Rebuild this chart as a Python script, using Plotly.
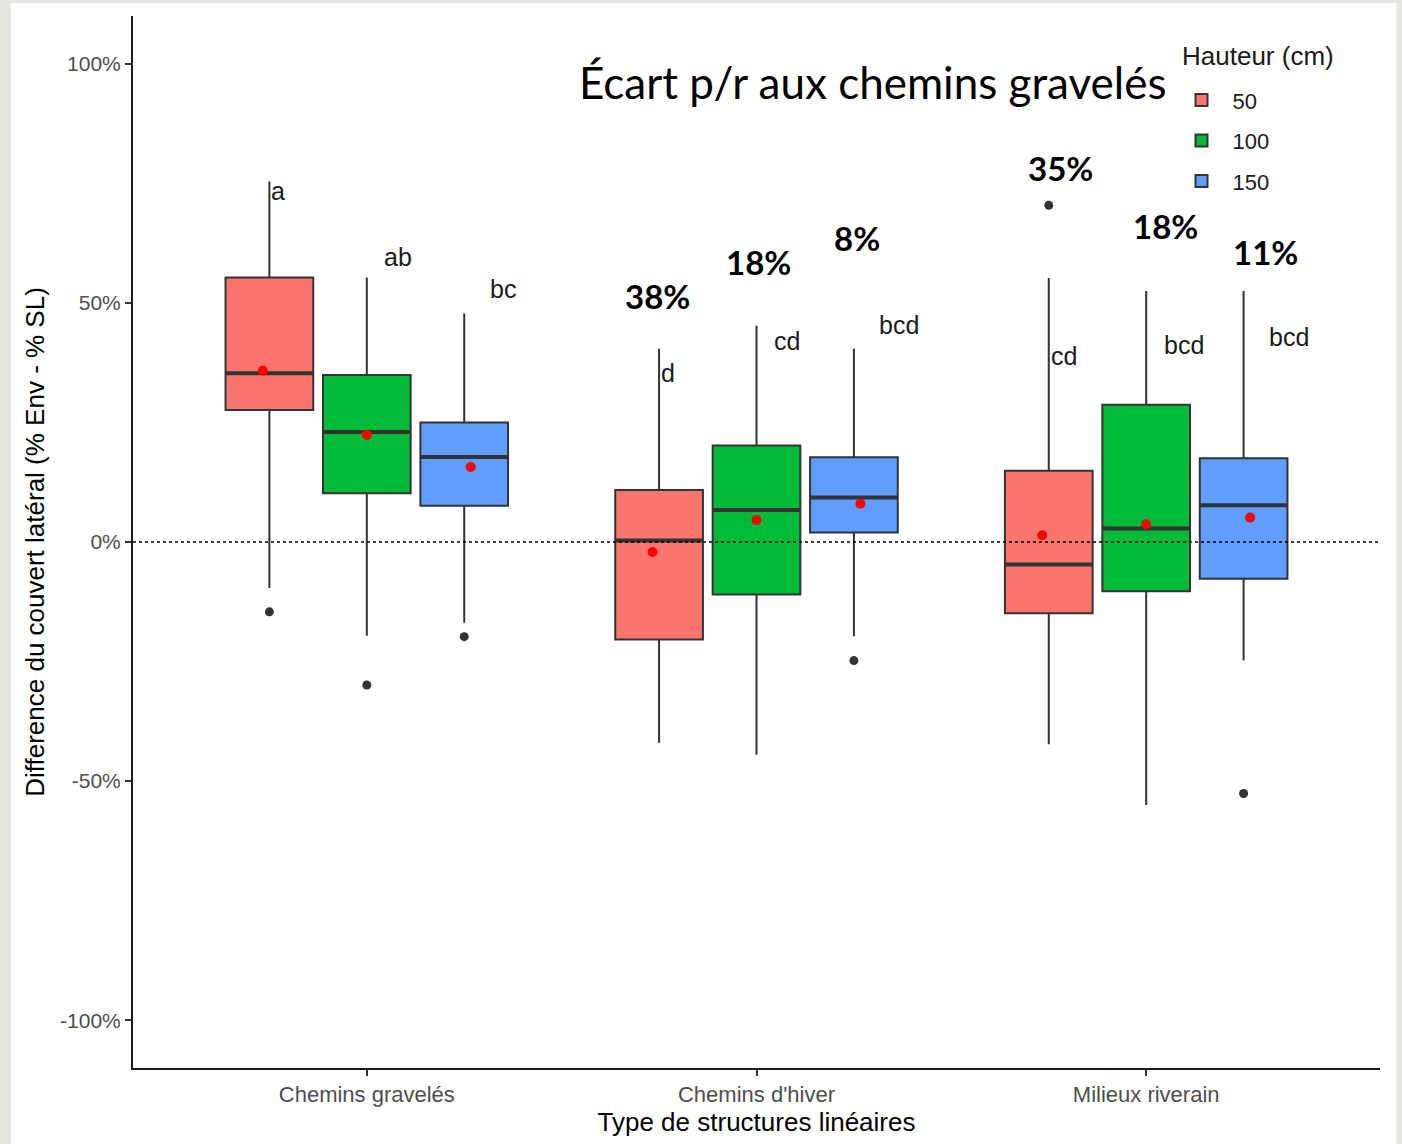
import plotly.graph_objects as go

# ---------------- data ----------------
categories = ["Chemins gravelés", "Chemins d'hiver", "Milieux riverain"]
hauteurs = ["50", "100", "150"]

upper_50 = [75.4, 40.4, 55.2]
q3_50 = [55.3, 10.9, 14.9]
median_50 = [35.3, 0.3, -4.7]
q1_50 = [27.6, -20.4, -14.9]
lower_50 = [-9.6, -42.0, -42.3]
mean_50 = [35.8, -2.1, 1.4]
out_cat_50 = [0, 2]
out_val_50 = [-14.6, 70.4]

upper_100 = [55.3, 45.2, 52.5]
q3_100 = [34.9, 20.2, 28.7]
median_100 = [23.0, 6.7, 2.8]
q1_100 = [10.2, -11.0, -10.3]
lower_100 = [-19.6, -44.5, -55.0]
mean_100 = [22.4, 4.6, 3.7]
out_cat_100 = [0]
out_val_100 = [-29.9]

upper_150 = [47.8, 40.4, 52.5]
q3_150 = [25.0, 17.7, 17.5]
median_150 = [17.8, 9.3, 7.7]
q1_150 = [7.6, 2.0, -7.7]
lower_150 = [-16.9, -19.7, -24.8]
mean_150 = [15.7, 8.0, 5.1]
out_cat_150 = [0, 1, 2]
out_val_150 = [-19.8, -24.8, -52.6]

# significance letters (rows = categories, cols = hauteurs)
letters = [["a", "ab", "bc"], ["d", "cd", "bcd"], ["cd", "bcd", "bcd"]]
letters_y = [[73.3, 59.7, 53.0], [35.3, 42.0, 45.3], [39.0, 41.3, 42.8]]

# écart percentages (categories 2 and 3)
pct_cat = [1, 1, 1, 2, 2, 2]
pct_text = ["38%", "18%", "8%", "35%", "18%", "11%"]
pct_y = [51.5, 58.5, 63.5, 78.3, 66.1, 60.7]

y_tick_vals = [-100, -50, 0, 50, 100]
y_tick_text = ["-100%", "-50%", "0%", "50%", "100%"]

title_text = "Écart p/r aux chemins gravelés"
x_title = "Type de structures linéaires"
y_title = "Difference du couvert latéral (% Env - % SL)"
legend_title = "Hauteur (cm)"

# ---------------- style / layout ----------------
colors = ["#F8766D", "#00BA38", "#619CFF"]
BOX_OFF = [-0.25, 0.0, 0.25]
MEAN_OFF = [-0.8 / 3, 0.0, 0.8 / 3]
BOX_W = 0.225
LETTER_OFF = [0.0, 0.04, 0.06]
PCT_OFF = [-0.255, 0.005, 0.259, -0.22, 0.049, 0.305]
SANS = "Arial, Liberation Sans, sans-serif"
GREY = "#333333"
BEIGE = "#E7E5DF"

series = [
    (upper_50, q3_50, median_50, q1_50, lower_50, mean_50, out_cat_50, out_val_50),
    (upper_100, q3_100, median_100, q1_100, lower_100, mean_100, out_cat_100, out_val_100),
    (upper_150, q3_150, median_150, q1_150, lower_150, mean_150, out_cat_150, out_val_150),
]

fig = go.Figure()
ncat = len(categories)

for hi, (up, q3, med, q1, lo, mn, oc, ov) in enumerate(series):
    xs = [ci + BOX_OFF[hi] for ci in range(ncat)]
    fig.add_trace(go.Box(
        x=xs, q1=q1, median=med, q3=q3, lowerfence=lo, upperfence=up,
        width=BOX_W, whiskerwidth=0, boxpoints=False,
        fillcolor=colors[hi], line=dict(color=GREY, width=2),
        name=hauteurs[hi], legendgroup=hauteurs[hi], hoverinfo="skip",
    ))

for hi, (up, q3, med, q1, lo, mn, oc, ov) in enumerate(series):
    # thick medians
    mx, my = [], []
    for ci in range(ncat):
        c = ci + BOX_OFF[hi]
        mx += [c - BOX_W / 2, c + BOX_W / 2, None]
        my += [med[ci], med[ci], None]
    fig.add_trace(go.Scatter(x=mx, y=my, mode="lines", line=dict(color=GREY, width=4),
                             showlegend=False, hoverinfo="skip"))
    # outliers
    fig.add_trace(go.Scatter(x=[c + BOX_OFF[hi] for c in oc], y=ov, mode="markers",
                             marker=dict(color=GREY, size=9), showlegend=False, hoverinfo="skip"))
    # means
    fig.add_trace(go.Scatter(x=[ci + MEAN_OFF[hi] for ci in range(ncat)], y=mn, mode="markers",
                             marker=dict(color="#FF0000", size=10), showlegend=False, hoverinfo="skip"))

annotations = []
for ci in range(ncat):
    for hi in range(3):
        annotations.append(dict(
            x=ci + BOX_OFF[hi] + LETTER_OFF[hi], y=letters_y[ci][hi], xref="x", yref="y",
            text=letters[ci][hi], showarrow=False, xanchor="left", yanchor="middle",
            font=dict(family=SANS, size=25, color="#1a1a1a"),
        ))
for k in range(len(pct_text)):
    annotations.append(dict(
        x=pct_cat[k] + PCT_OFF[k], y=pct_y[k], xref="x", yref="y",
        text=pct_text[k], showarrow=False, xanchor="center", yanchor="middle",
        font=dict(family="Lato", size=33, color="#000000", weight="bold"),
    ))
annotations.append(dict(
    x=0.5934, y=0.9374, xref="paper", yref="paper", text=title_text, showarrow=False,
    xanchor="center", yanchor="middle", font=dict(family="Lato", size=44, color="#000000"),
))
annotations.append(dict(
    x=0.8396, y=0.962, xref="paper", yref="paper", text=legend_title, showarrow=False,
    xanchor="left", yanchor="middle", font=dict(family=SANS, size=26, color="#1a1a1a"),
))

shapes = [
    dict(type="rect", xref="paper", yref="paper", x0=-0.098, x1=1.0132, y0=-0.1, y1=1.0123,
         fillcolor="white", line=dict(width=0), layer="below"),
    dict(type="line", xref="paper", yref="y", x0=0, x1=1, y0=0, y1=0,
         line=dict(color="#000000", width=1.6, dash="dot"), layer="above"),
]

fig.update_layout(
    width=1402, height=1144,
    margin=dict(l=133, r=22, t=16, b=74),
    paper_bgcolor=BEIGE, plot_bgcolor="white",
    boxmode="overlay",
    annotations=annotations, shapes=shapes,
    legend=dict(
        font=dict(family=SANS, size=22, color="#1a1a1a"),
        x=0.832, y=0.940, xanchor="left", yanchor="top",
        bgcolor="rgba(0,0,0,0)", tracegroupgap=9, itemwidth=52,
    ),
    xaxis=dict(
        range=[-0.6, 2.6], tickvals=list(range(ncat)), ticktext=categories,
        showline=True, linecolor="#1a1a1a", linewidth=2, ticks="outside", ticklen=6,
        tickcolor=GREY, tickwidth=1.5, showgrid=False, zeroline=False,
        tickfont=dict(family=SANS, size=22, color="#4d4d4d"),
        title=dict(text=x_title, font=dict(family=SANS, size=26, color="#000000"), standoff=6),
    ),
    yaxis=dict(
        range=[-110, 110], tickvals=y_tick_vals, ticktext=y_tick_text,
        showline=True, linecolor="#1a1a1a", linewidth=2, ticks="outside", ticklen=6,
        tickcolor=GREY, tickwidth=1.5, showgrid=False, zeroline=False,
        tickfont=dict(family=SANS, size=21, color="#4d4d4d"),
        title=dict(text=y_title, font=dict(family=SANS, size=26, color="#000000"), standoff=8),
    ),
)

fig.write_html(
    "out.html",
    config={"displayModeBar": False},
    post_script="document.body.style.margin='0';document.body.style.background='" + BEIGE + "';",
)
